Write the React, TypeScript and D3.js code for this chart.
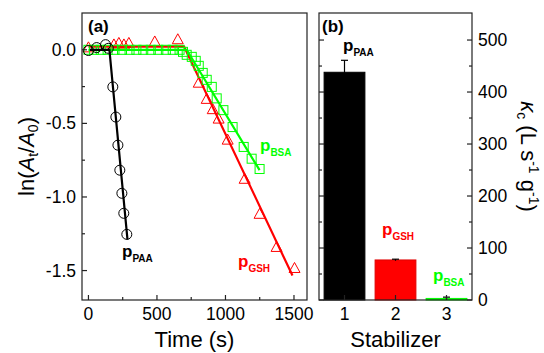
import React from 'react';
import * as d3 from 'd3';

// Panel (a) data: time (s) vs ln(At/A0)
const paaTime = [0, 60, 125, 145, 178, 200, 215, 229, 244, 258, 280];
const paaLn = [-0.005, 0.015, 0.035, 0.01, -0.252, -0.457, -0.648, -0.818, -0.975, -1.111, -1.254];

const gshTime = [0, 186, 222, 259, 295, 484, 652, 805, 863, 907, 950, 1016, 1140, 1249, 1373, 1504];
const gshLn = [0.02, 0.04, 0.05, 0.04, 0.05, 0.06, 0.075, -0.22, -0.33, -0.40, -0.464, -0.607, -0.873, -1.111, -1.336, -1.479];

const bsaTime = [0, 40, 90, 140, 190, 245, 300, 350, 400, 455, 510, 565, 615, 665, 690, 717, 754, 783, 805, 834, 863, 900, 936, 985, 1052, 1133, 1191, 1249];
const bsaLn = [0, 0, 0, 0, 0, 0, 0, 0, 0, 0, 0, 0, 0, 0, -0.014, -0.034, -0.048, -0.075, -0.109, -0.157, -0.204, -0.252, -0.33, -0.41, -0.525, -0.66, -0.74, -0.81];

// Linear fits (piecewise)
const paaFitT = [10, 153, 285];
const paaFitV = [0, 0, -1.29];
const gshFitT = [0, 698, 1489];
const gshFitV = [0.022, 0.022, -1.534];
const bsaFitT = [0, 717, 1249];
const bsaFitV = [0, 0, -0.818];

const timeTicks = [0, 500, 1000, 1500];
const timeMinor = [250, 750, 1250];
const lnTicks = [0, -0.5, -1.0, -1.5];
const lnMinor = [-0.25, -0.75, -1.25];

// Panel (b) data
const stabilizers = [1, 2, 3];
const kcValues = [438, 77, 3];
const kcErrors = [23, 1.5, 2.5];
const barColors = ['#000000', '#ff0000', '#00ff00'];
const kcTicks = [0, 100, 200, 300, 400, 500];
const kcMinor = [50, 150, 250, 350, 450];

const FONT = "'Liberation Sans', Arial, sans-serif";
const GREEN = '#00ff00';
const RED = '#ff0000';

export default function App() {
  const ax = { l: 82, r: 307, t: 13, b: 300 };
  const bx = { l: 319, r: 472, t: 13, b: 300 };

  const x = d3.scaleLinear().domain([-47, 1595]).range([ax.l, ax.r]);
  const y = d3.scaleLinear().domain([0.25, -1.7]).range([ax.t, ax.b]);
  const xb = d3.scaleLinear().domain([0.5, 3.5]).range([bx.l, bx.r]);
  const yb = d3.scaleLinear().domain([0, 552]).range([bx.b, bx.t]);

  const line = d3.line<[number, number]>().x(d => x(d[0])).y(d => y(d[1]));
  const zip = (a: number[], b: number[]) => a.map((v, i) => [v, b[i]] as [number, number]);

  const tickFs = 17.5;
  const titleFs = 22;
  const bw = xb(1.4) - xb(0.6);

  const tri = (cx: number, cy: number) => {
    const w = 5.5, h = 5;
    return `M${cx},${cy - h}L${cx + w},${cy + h}L${cx - w},${cy + h}Z`;
  };

  const pLabel = (px: number, py: number, sub: string, color: string) => (
    <text x={px} y={py} fill={color} fontFamily={FONT} fontWeight="bold" fontSize={17}>
      p<tspan fontSize={10} dy={5}>{sub}</tspan>
    </text>
  );

  return (
    <svg width={544} height={353} style={{ position: 'absolute', left: 0, top: 0, background: '#fff' }}>
      <rect x={0} y={0} width={544} height={353} fill="#fff" />
      <defs>
        <clipPath id="clipA">
          <rect x={ax.l} y={ax.t} width={ax.r - ax.l} height={ax.b - ax.t} />
        </clipPath>
      </defs>

      {/* Panel (a) */}
      <g clipPath="url(#clipA)">
        {zip(gshTime, gshLn).map((d, i) => (
          <path key={'g' + i} d={tri(x(d[0]), y(d[1]))} fill="none" stroke={RED} strokeWidth={1} />
        ))}
        <path d={line(zip(gshFitT, gshFitV)) || ''} fill="none" stroke={RED} strokeWidth={2.2} />
        {zip(bsaTime, bsaLn).map((d, i) => (
          <rect key={'b' + i} x={x(d[0]) - 4.5} y={y(d[1]) - 4.5} width={9} height={9} fill="none" stroke={GREEN} strokeWidth={1} />
        ))}
        <path d={line(zip(bsaFitT, bsaFitV)) || ''} fill="none" stroke={GREEN} strokeWidth={2.2} />
        {zip(paaTime, paaLn).map((d, i) => (
          <circle key={'p' + i} cx={x(d[0])} cy={y(d[1])} r={5} fill="none" stroke="#000" strokeWidth={1} />
        ))}
        <path d={line(zip(paaFitT, paaFitV)) || ''} fill="none" stroke="#000" strokeWidth={2.2} />
      </g>

      {/* Panel (a) axes */}
      <rect x={ax.l} y={ax.t} width={ax.r - ax.l} height={ax.b - ax.t} fill="none" stroke="#222" strokeWidth={1.2} />
      {lnTicks.map(v => (
        <g key={'ly' + v}>
          <line x1={ax.l} x2={ax.l + 5} y1={y(v)} y2={y(v)} stroke="#222" strokeWidth={1.2} />
          <text x={ax.l - 6} y={y(v) + 6} textAnchor="end" fontFamily={FONT} fontSize={tickFs}>
            {v.toFixed(1)}
          </text>
        </g>
      ))}
      {lnMinor.map(v => (
        <line key={'lym' + v} x1={ax.l} x2={ax.l + 3} y1={y(v)} y2={y(v)} stroke="#222" strokeWidth={1.2} />
      ))}
      {timeTicks.map(t => (
        <g key={'tx' + t}>
          <line x1={x(t)} x2={x(t)} y1={ax.b} y2={ax.b - 5} stroke="#222" strokeWidth={1.2} />
          <text x={x(t)} y={ax.b + 20} textAnchor="middle" fontFamily={FONT} fontSize={tickFs}>
            {t}
          </text>
        </g>
      ))}
      {timeMinor.map(t => (
        <line key={'txm' + t} x1={x(t)} x2={x(t)} y1={ax.b} y2={ax.b - 3} stroke="#222" strokeWidth={1.2} />
      ))}
      <text x={(ax.l + ax.r) / 2} y={347} textAnchor="middle" fontFamily={FONT} fontSize={titleFs}>
        Time (s)
      </text>
      <text transform={`translate(34,${(ax.t + ax.b) / 2}) rotate(-90)`} textAnchor="middle" fontFamily={FONT} fontSize={titleFs}>
        ln(<tspan fontStyle="italic">A</tspan>
        <tspan fontSize={14} dy={4}>t</tspan>
        <tspan dy={-4}>/</tspan>
        <tspan fontStyle="italic">A</tspan>
        <tspan fontSize={14} dy={4}>0</tspan>
        <tspan dy={-4}>)</tspan>
      </text>
      <text x={88} y={32} fontFamily={FONT} fontWeight="bold" fontSize={17}>(a)</text>
      {pLabel(122, 257, 'PAA', '#000')}
      {pLabel(238, 267, 'GSH', RED)}
      {pLabel(260, 151, 'BSA', GREEN)}

      {/* Panel (b) */}
      {stabilizers.map((s, i) => (
        <g key={'bar' + s}>
          <rect x={xb(s) - bw / 2} y={yb(kcValues[i])} width={bw} height={yb(0) - yb(kcValues[i])} fill={barColors[i]} stroke={barColors[i] === RED ? '#e00000' : barColors[i]} strokeWidth={1} />
          <line x1={xb(s)} x2={xb(s)} y1={yb(kcValues[i] - kcErrors[i])} y2={yb(kcValues[i] + kcErrors[i])} stroke="#000" strokeWidth={1.2} />
          <line x1={xb(s) - 3.5} x2={xb(s) + 3.5} y1={yb(kcValues[i] + kcErrors[i])} y2={yb(kcValues[i] + kcErrors[i])} stroke="#000" strokeWidth={1.2} />
        </g>
      ))}
      <rect x={bx.l} y={bx.t} width={bx.r - bx.l} height={bx.b - bx.t} fill="none" stroke="#222" strokeWidth={1.2} />
      {kcTicks.map(v => (
        <g key={'ky' + v}>
          <line x1={bx.l} x2={bx.l + 5} y1={yb(v)} y2={yb(v)} stroke="#222" strokeWidth={1.2} />
          <line x1={bx.r} x2={bx.r - 5} y1={yb(v)} y2={yb(v)} stroke="#222" strokeWidth={1.2} />
          <text x={bx.r + 6} y={yb(v) + 6} textAnchor="start" fontFamily={FONT} fontSize={tickFs}>
            {v}
          </text>
        </g>
      ))}
      {kcMinor.map(v => (
        <g key={'kym' + v}>
          <line x1={bx.l} x2={bx.l + 3} y1={yb(v)} y2={yb(v)} stroke="#222" strokeWidth={1.2} />
          <line x1={bx.r} x2={bx.r - 3} y1={yb(v)} y2={yb(v)} stroke="#222" strokeWidth={1.2} />
        </g>
      ))}
      {stabilizers.map(s => (
        <g key={'bx' + s}>
          <line x1={xb(s)} x2={xb(s)} y1={bx.b} y2={bx.b - 5} stroke="#222" strokeWidth={1.2} />
          <text x={xb(s)} y={bx.b + 20} textAnchor="middle" fontFamily={FONT} fontSize={tickFs}>
            {s}
          </text>
        </g>
      ))}
      <text x={(bx.l + bx.r) / 2} y={347} textAnchor="middle" fontFamily={FONT} fontSize={titleFs}>
        Stabilizer
      </text>
      <text transform={`translate(521,${(bx.t + bx.b) / 2}) rotate(90)`} textAnchor="middle" fontFamily={FONT} fontSize={titleFs}>
        <tspan fontStyle="italic">κ</tspan>
        <tspan fontSize={14} dy={4}>c</tspan>
        <tspan dy={-4}> (L s</tspan>
        <tspan fontSize={14} dy={-8}>-1</tspan>
        <tspan dy={8}> g</tspan>
        <tspan fontSize={14} dy={-8}>-1</tspan>
        <tspan dy={8}>)</tspan>
      </text>
      <text x={322} y={32} fontFamily={FONT} fontWeight="bold" fontSize={17}>(b)</text>
      {pLabel(343, 51, 'PAA', '#000')}
      {pLabel(382, 235, 'GSH', RED)}
      {pLabel(433, 281, 'BSA', GREEN)}
    </svg>
  );
}
